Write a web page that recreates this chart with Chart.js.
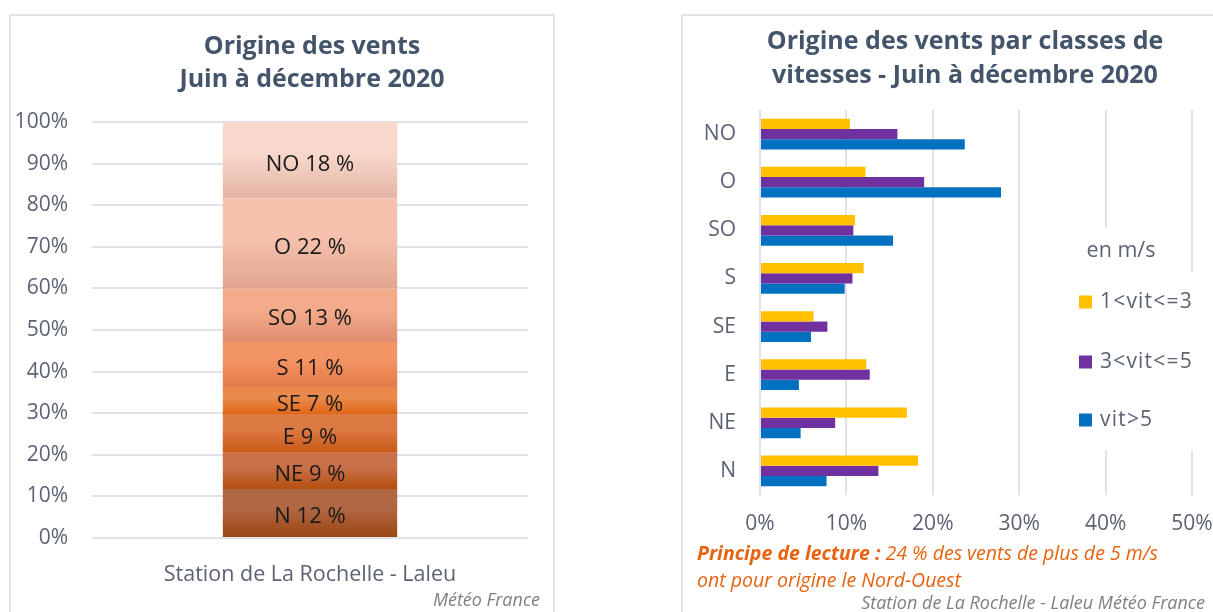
<!DOCTYPE html>
<html lang="fr">
<head>
<meta charset="utf-8">
<script src="https://cdn.jsdelivr.net/npm/chart.js@4.4.1/dist/chart.umd.min.js"></script>
<style>
  body { margin: 0; width: 1213px; height: 612px; overflow: hidden; background: #fff; position: relative; font-family: "Open Sans", sans-serif; }
  .panel { position: absolute; border: 2px solid #e0e3e8; }
  canvas { position: absolute; top: 0; }
  .note { position: absolute; font-style: italic; white-space: nowrap; }
</style>
</head>
<body>
<div class="panel" style="left:9px; top:14px; width:542px; height:640px;"></div>
<div class="panel" style="left:681px; top:14px; width:600px; height:640px;"></div>
<canvas id="c1" width="560" height="612" style="left:0"></canvas>
<canvas id="c2" width="531" height="612" style="left:682px"></canvas>
<div class="note" style="left:340px; width:200px; text-align:right; top:587px; font-size:18px; color:#7f7f7f;">Météo France</div>
<div class="note" style="left:697px; top:539px; font-size:19.5px; line-height:27px; color:#e8620f;"><b>Principe de lecture :</b> 24 % des vents de plus de 5 m/s<br>ont pour origine le Nord-Ouest</div>
<div class="note" style="left:755px; width:450px; text-align:right; top:590px; font-size:18px; color:#7f7f7f;">Station de La Rochelle - Laleu Météo France</div>
<script>
// ---- graphique 1 : origine des vents (du bas vers le haut)
const directions = ['N', 'NE', 'E', 'SE', 'S', 'SO', 'O', 'NO'];
const parts = [11.8, 8.7, 9.3, 6.5, 10.8, 12.9, 21.6, 18.4];
const station = ['Station de La Rochelle - Laleu'];

// ---- graphique 2 : classes de vitesses
const secteurs = ['NO', 'O', 'SO', 'S', 'SE', 'E', 'NE', 'N'];
const classes = ['1<vit<=3', '3<vit<=5', 'vit>5'];
const vitFaible = [10.4, 12.2, 11.0, 12.0, 6.2, 12.3, 17.0, 18.3];
const vitMoyenne = [15.9, 19.0, 10.8, 10.7, 7.8, 12.7, 8.7, 13.7];
const vitForte = [23.7, 27.9, 15.4, 9.8, 5.9, 4.5, 4.7, 7.7];

const FONT = '"Open Sans", sans-serif';
const axisColor = '#5b6372';
const gridColor = '#dfe2e8';
const titleColor = '#44546a';

const topColors = ['#b06844', '#c8704a', '#dc7a44', '#e98a4c', '#f39464', '#f3ab8c', '#f6c2ae', '#f8d8cc'];
const bottomColors = ['#9c4410', '#b4500f', '#c85814', '#e26616', '#e47a48', '#df8e70', '#e1a690', '#e4b5a5'];

function segmentFill(ctx, i) {
  const chart = ctx.chart;
  const y = chart.scales.y;
  if (!chart.chartArea || !y) return topColors[i];
  let start = 0;
  for (let k = 0; k < i; k++) start += parts[k];
  const yTop = y.getPixelForValue(start + parts[i]);
  const yBot = y.getPixelForValue(start);
  const g = chart.ctx.createLinearGradient(0, yTop, 0, yBot);
  g.addColorStop(0, topColors[i]);
  g.addColorStop(0.4, topColors[i]);
  g.addColorStop(1, bottomColors[i]);
  return g;
}

function titlePlugin(lines, cx, y0, step) {
  return {
    id: 'titres',
    afterDraw(chart) {
      const c = chart.ctx;
      c.save();
      c.font = 'bold 25px ' + FONT;
      c.fillStyle = titleColor;
      c.textAlign = 'center';
      c.textBaseline = 'middle';
      lines.forEach((l, i) => c.fillText(l, cx, y0 + i * step));
      c.restore();
    }
  };
}

const segLabels = {
  id: 'segLabels',
  afterDatasetsDraw(chart) {
    const c = chart.ctx;
    c.save();
    c.font = '22px ' + FONT;
    c.fillStyle = '#1a1a1a';
    c.textAlign = 'center';
    c.textBaseline = 'middle';
    chart.data.datasets.forEach((ds, i) => {
      const el = chart.getDatasetMeta(i).data[0];
      c.fillText(ds.label + ' ' + Math.round(ds.data[0]) + ' %', el.x, (el.y + el.base) / 2 + 4);
    });
    c.restore();
  }
};

new Chart(document.getElementById('c1'), {
  type: 'bar',
  data: {
    labels: station,
    datasets: directions.map((d, i) => ({
      label: d,
      data: [parts[i]],
      backgroundColor: ctx => segmentFill(ctx, i),
      barPercentage: 0.4,
      categoryPercentage: 1
    }))
  },
  options: {
    responsive: false,
    animation: false,
    layout: { padding: { left: 10, top: 122, right: 32, bottom: 0 } },
    plugins: { legend: { display: false }, tooltip: { enabled: false } },
    scales: {
      x: {
        stacked: true,
        grid: { display: false },
        border: { display: false },
        ticks: { color: axisColor, font: { family: FONT, size: 21.5 }, padding: 16 },
        afterFit: s => { s.height = 74; }
      },
      y: {
        stacked: true,
        min: 0,
        max: 100,
        ticks: { stepSize: 10, callback: v => v + '%', color: axisColor, font: { family: FONT, size: 21 }, padding: 24 },
        grid: { color: gridColor, lineWidth: 2, drawTicks: false },
        border: { display: false },
        afterFit: s => { s.width = 82; }
      }
    }
  },
  plugins: [titlePlugin(['Origine des vents', 'Juin à décembre 2020'], 312, 47, 33), segLabels]
});

const legendBox = {
  id: 'legendBox',
  afterDatasetsDraw(chart) {
    const c = chart.ctx;
    c.save();
    c.fillStyle = '#fff';
    c.fillRect(388, 228, 115, 44);
    c.fillRect(388, 272, 143, 178);
    c.font = '21.5px ' + FONT;
    c.fillStyle = axisColor;
    c.textBaseline = 'middle';
    c.textAlign = 'center';
    c.fillText('en m/s', 439, 251);
    c.textAlign = 'left';
    c.font = '21px ' + FONT;
    c.letterSpacing = '1.2px';
    const ys = [302, 362, 420];
    chart.data.datasets.forEach((ds, i) => {
      c.fillStyle = ds.backgroundColor;
      c.fillRect(397, ys[i] - 6.5, 13, 13);
      c.fillStyle = axisColor;
      c.fillText(ds.label, 418, ys[i]);
    });
    c.restore();
  }
};

new Chart(document.getElementById('c2'), {
  type: 'bar',
  data: {
    labels: secteurs,
    datasets: [
      { label: classes[0], data: vitFaible, backgroundColor: '#ffc000' },
      { label: classes[1], data: vitMoyenne, backgroundColor: '#7030a0' },
      { label: classes[2], data: vitForte, backgroundColor: '#0070c0' }
    ]
  },
  options: {
    indexAxis: 'y',
    responsive: false,
    animation: false,
    datasets: { bar: { barPercentage: 1, categoryPercentage: 0.64 } },
    layout: { padding: { left: 0, top: 110, right: 21, bottom: 0 } },
    plugins: { legend: { display: false }, tooltip: { enabled: false } },
    scales: {
      x: {
        min: 0,
        max: 50,
        ticks: { stepSize: 10, callback: v => v + '%', color: axisColor, font: { family: FONT, size: 21 }, padding: 16 },
        grid: { color: gridColor, lineWidth: 2, drawTicks: false },
        border: { display: false },
        afterFit: s => { s.height = 117; s.paddingLeft = 0; s.paddingRight = 0; }
      },
      y: {
        grid: { display: false },
        border: { display: false },
        ticks: { color: axisColor, font: { family: FONT, size: 21 }, padding: 16 },
        afterFit: s => { s.width = 78; }
      }
    }
  },
  plugins: [titlePlugin(['Origine des vents par classes de', 'vitesses - Juin à décembre 2020'], 283, 42, 34), legendBox]
});
</script>
</body>
</html>
